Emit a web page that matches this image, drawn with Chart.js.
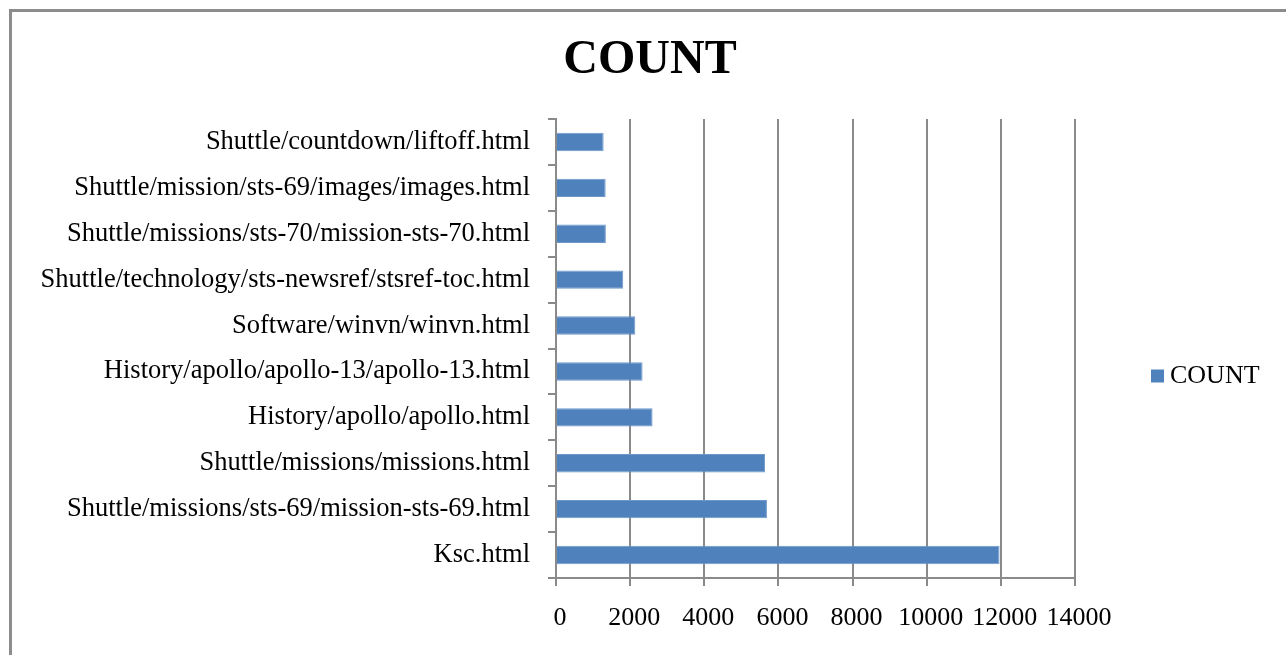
<!DOCTYPE html>
<html>
<head>
<meta charset="utf-8">
<title>COUNT</title>
<script src="https://cdn.jsdelivr.net/npm/chart.js@4.4.0/dist/chart.umd.min.js"></script>
<style>
  html, body { margin: 0; padding: 0; background: #fff; overflow: hidden; }
  #wrap { position: relative; width: 1286px; height: 655px; }
  #frame {
    position: absolute; left: 9px; top: 9px; width: 1400px; height: 800px;
    border: 3px solid #8c8c8c; box-sizing: border-box;
  }
  canvas { position: absolute; left: 0; top: 0; }
</style>
</head>
<body>
<div id="wrap">
  <div id="frame"></div>
  <canvas id="countChart" width="1286" height="655"></canvas>
</div>
<script>
// Páginas más visitadas, de arriba abajo
const pages = [
  'Shuttle/countdown/liftoff.html',
  'Shuttle/mission/sts-69/images/images.html',
  'Shuttle/missions/sts-70/mission-sts-70.html',
  'Shuttle/technology/sts-newsref/stsref-toc.html',
  'Software/winvn/winvn.html',
  'History/apollo/apollo-13/apollo-13.html',
  'History/apollo/apollo.html',
  'Shuttle/missions/missions.html',
  'Shuttle/missions/sts-69/mission-sts-69.html',
  'Ksc.html'
];
const counts = [1285, 1340, 1345, 1815, 2140, 2335, 2605, 5640, 5690, 11965];
const seriesName = 'COUNT';
const chartTitle = 'COUNT';
const xMax = 14000;
const xStep = 2000;

const SERIF = '"Liberation Serif", "Times New Roman", serif';
const BLUE = '#4f81bd';
const GRID = '#8a8a8a';

// Título centrado sobre todo el gráfico (incluida la zona de la leyenda)
const wideTitle = {
  id: 'wideTitle',
  afterDraw(chart) {
    const { ctx, width } = chart;
    ctx.save();
    ctx.fillStyle = '#000';
    ctx.font = 'bold 48px ' + SERIF;
    ctx.textAlign = 'center';
    ctx.textBaseline = 'middle';
    ctx.fillText(chartTitle, width / 2 + 7, 61);
    ctx.restore();
  }
};

// Leyenda tipo Excel a la derecha del área de trazado
const sideLegend = {
  id: 'sideLegend',
  afterDraw(chart) {
    const { ctx, chartArea } = chart;
    const cy = (chartArea.top + chartArea.bottom) / 2 + 28;
    const x = chartArea.right + 76;
    ctx.save();
    ctx.fillStyle = BLUE;
    ctx.fillRect(x, cy - 7, 13, 13);
    ctx.fillStyle = '#000';
    ctx.font = '26px ' + SERIF;
    ctx.textBaseline = 'middle';
    ctx.textAlign = 'left';
    ctx.fillText(seriesName, x + 19, cy);
    ctx.restore();
  }
};

new Chart(document.getElementById('countChart').getContext('2d'), {
  type: 'bar',
  data: {
    labels: pages,
    datasets: [{
      label: seriesName,
      data: counts,
      backgroundColor: BLUE,
      borderColor: '#6d98cc',
      borderWidth: 1,
      barPercentage: 0.4,
      categoryPercentage: 1
    }]
  },
  options: {
    indexAxis: 'y',
    responsive: false,
    animation: false,
    layout: { padding: { left: 0, right: 211, top: 119, bottom: 0 } },
    plugins: {
      legend: { display: false },
      tooltip: { enabled: false },
      title: { display: false }
    },
    scales: {
      x: {
        min: 0,
        max: xMax,
        afterFit: (scale) => { scale.height = 77; },
        ticks: {
          stepSize: xStep,
          callback: (value) => String(value),
          color: '#000',
          padding: 17,
          labelOffset: 4,
          maxRotation: 0,
          font: { family: SERIF, size: 26 }
        },
        grid: {
          color: GRID,
          lineWidth: 2,
          drawTicks: true,
          tickLength: 8
        },
        border: { color: GRID, width: 2 }
      },
      y: {
        afterFit: (scale) => { scale.width = 556; },
        ticks: {
          color: '#000',
          padding: 18,
          autoSkip: false,
          font: { family: SERIF, size: 26.5 }
        },
        grid: {
          offset: true,
          drawOnChartArea: false,
          drawTicks: true,
          tickLength: 8,
          color: GRID,
          lineWidth: 2
        },
        border: { color: GRID, width: 2 }
      }
    }
  },
  plugins: [wideTitle, sideLegend]
});
</script>
</body>
</html>
